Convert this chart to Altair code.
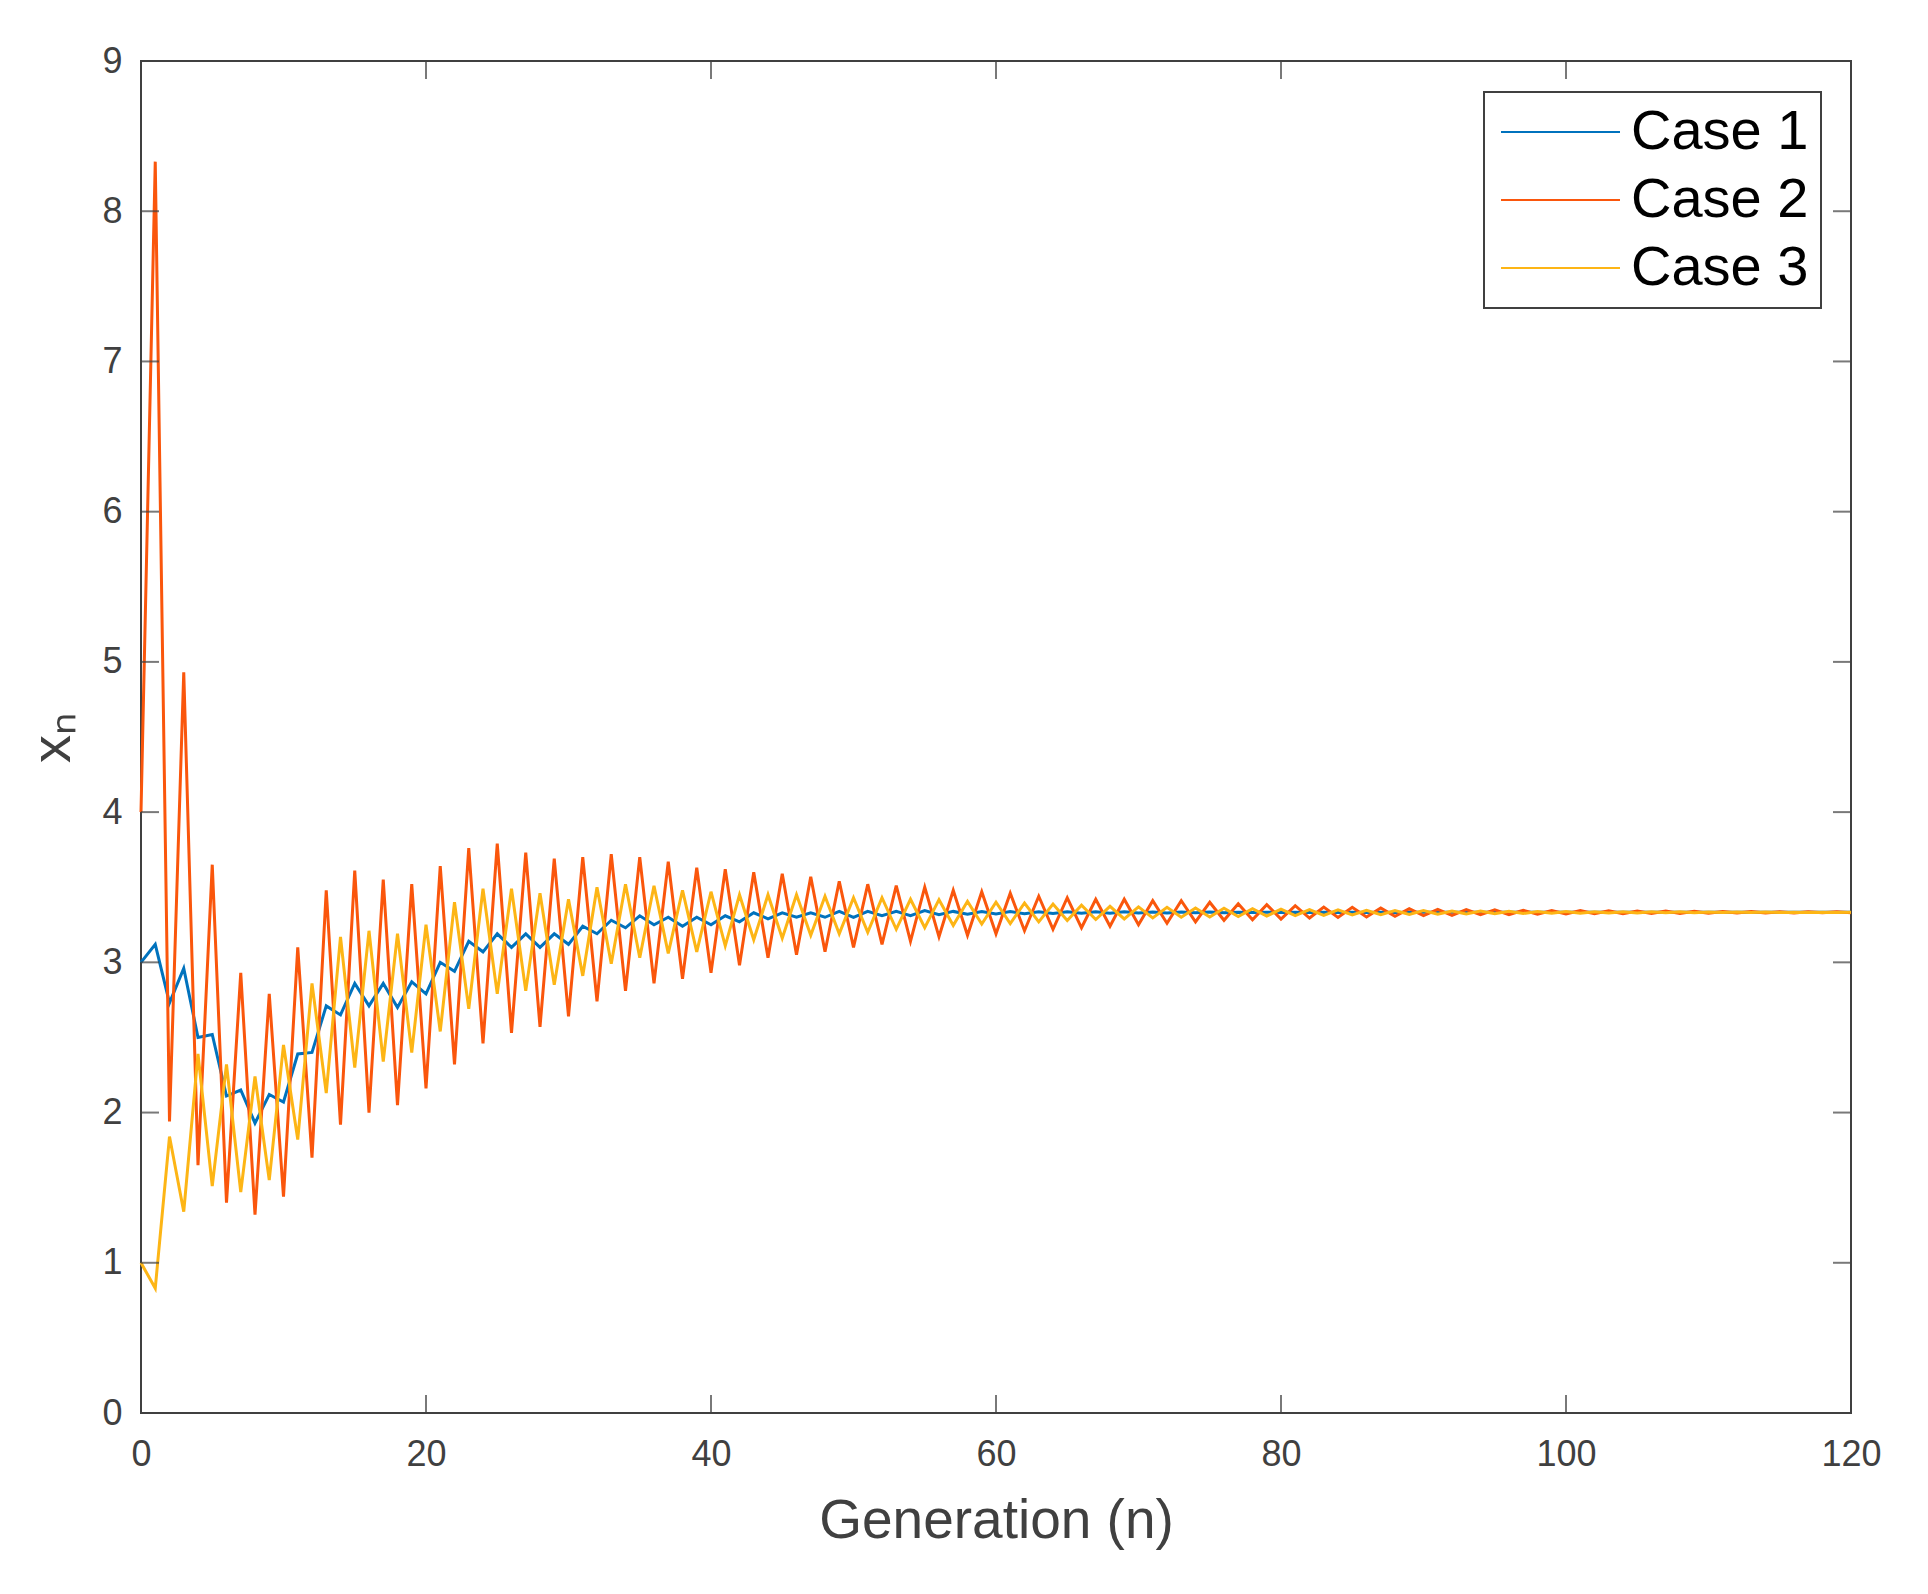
import altair as alt
import pandas as pd

n_values = list(range(121))

case1 = [
    3.00, 3.12, 2.73, 2.96, 2.50, 2.52, 2.11, 2.15, 1.93, 2.12,
    2.07, 2.39, 2.40, 2.71, 2.65, 2.86, 2.71, 2.86, 2.70, 2.87,
    2.79, 3.00, 2.94, 3.14, 3.07, 3.19, 3.10, 3.19, 3.10, 3.19,
    3.12, 3.24, 3.19, 3.28, 3.23, 3.31, 3.25, 3.30, 3.24, 3.30,
    3.25, 3.31, 3.27, 3.33, 3.29, 3.33, 3.30, 3.33, 3.30, 3.34,
    3.30, 3.34, 3.31, 3.34, 3.31, 3.345, 3.317, 3.339, 3.320, 3.338,
    3.322, 3.338, 3.324, 3.337, 3.325, 3.337, 3.326, 3.336, 3.327, 3.336,
    3.328, 3.335, 3.329, 3.335, 3.330, 3.335, 3.330, 3.334, 3.331, 3.334,
    3.331, 3.334, 3.332, 3.334, 3.332, 3.334, 3.332, 3.333, 3.332, 3.333,
    3.333, 3.333, 3.333, 3.333, 3.333, 3.333, 3.333, 3.333, 3.333, 3.333,
    3.333, 3.333, 3.333, 3.333, 3.333, 3.333, 3.333, 3.333, 3.333, 3.333,
    3.333, 3.333, 3.333, 3.333, 3.333, 3.333, 3.333, 3.333, 3.333, 3.333,
    3.333,
]

case2 = [
    4.00, 8.33, 1.94, 4.93, 1.65, 3.65, 1.40, 2.93, 1.32, 2.79,
    1.44, 3.10, 1.70, 3.48, 1.92, 3.61, 2.00, 3.55, 2.05, 3.52,
    2.16, 3.64, 2.32, 3.76, 2.46, 3.79, 2.53, 3.73, 2.57, 3.69,
    2.64, 3.70, 2.74, 3.72, 2.81, 3.70, 2.86, 3.67, 2.89, 3.63,
    2.93, 3.62, 2.98, 3.60, 3.03, 3.59, 3.05, 3.57, 3.07, 3.54,
    3.10, 3.52, 3.12, 3.51, 3.14, 3.50, 3.17, 3.48, 3.18, 3.47,
    3.19, 3.46, 3.21, 3.44, 3.22, 3.43, 3.23, 3.42, 3.24, 3.42,
    3.25, 3.41, 3.26, 3.41, 3.27, 3.40, 3.28, 3.39, 3.284, 3.384,
    3.288, 3.377, 3.295, 3.368, 3.299, 3.366, 3.302, 3.362, 3.306, 3.357,
    3.311, 3.353, 3.313, 3.351, 3.317, 3.349, 3.318, 3.346, 3.321, 3.345,
    3.322, 3.344, 3.323, 3.343, 3.324, 3.342, 3.325, 3.341, 3.326, 3.340,
    3.327, 3.339, 3.328, 3.338, 3.329, 3.337, 3.329, 3.337, 3.330, 3.336,
    3.330,
]

case3 = [
    1.00, 0.83, 1.84, 1.34, 2.39, 1.51, 2.32, 1.47, 2.24, 1.55,
    2.45, 1.82, 2.86, 2.13, 3.17, 2.30, 3.21, 2.34, 3.19, 2.40,
    3.25, 2.54, 3.40, 2.69, 3.49, 2.79, 3.49, 2.81, 3.46, 2.85,
    3.42, 2.91, 3.50, 2.99, 3.52, 3.03, 3.51, 3.06, 3.48, 3.07,
    3.47, 3.11, 3.45, 3.15, 3.45, 3.16, 3.45, 3.18, 3.44, 3.19,
    3.43, 3.20, 3.43, 3.22, 3.42, 3.23, 3.417, 3.246, 3.406, 3.255,
    3.400, 3.258, 3.395, 3.269, 3.388, 3.278, 3.380, 3.285, 3.373, 3.289,
    3.369, 3.296, 3.366, 3.300, 3.362, 3.302, 3.360, 3.305, 3.357, 3.308,
    3.354, 3.311, 3.351, 3.313, 3.349, 3.315, 3.347, 3.317, 3.345, 3.319,
    3.344, 3.321, 3.342, 3.322, 3.341, 3.324, 3.340, 3.325, 3.339, 3.326,
    3.338, 3.327, 3.337, 3.328, 3.337, 3.329, 3.336, 3.330, 3.336, 3.330,
    3.335, 3.331, 3.335, 3.331, 3.335, 3.332, 3.334, 3.332, 3.334, 3.332,
    3.334,
]

series_names = ["Case 1", "Case 2", "Case 3"]
series_colors = ["#0072BD", "#FA560C", "#FDB515"]

x_ticks = [0, 20, 40, 60, 80, 100, 120]
y_ticks = [0, 1, 2, 3, 4, 5, 6, 7, 8, 9]

W, H = 1710, 1352
FONT = "Liberation Sans"
GRAY = "#404040"

rows = []
for name, vals in zip(series_names, [case1, case2, case3]):
    for n, v in zip(n_values, vals):
        rows.append({"n": n, "value": v, "series": name})
df = pd.DataFrame(rows)

xscale = alt.Scale(domain=[0, 120], nice=False, zero=False)
yscale = alt.Scale(domain=[0, 9], nice=False, zero=False)

xaxis = alt.Axis(values=x_ticks, title="Generation (n)", tickSize=0,
                 domain=False, grid=False, labelFontSize=36,
                 labelPadding=24, labelColor=GRAY, labelFont=FONT,
                 titleFont=FONT, titleFontSize=55, titleFontWeight="normal",
                 titleColor=GRAY, titlePadding=22, labelFlush=False)
yaxis = alt.Axis(values=y_ticks, title="xₙ", tickSize=0,
                 domain=False, grid=False, labelFontSize=36,
                 labelPadding=19, labelColor=GRAY, labelFont=FONT,
                 titleFont=FONT, titleFontSize=56, titleFontWeight="normal",
                 titleColor=GRAY, titlePadding=20, labelFlush=False)

lines = alt.Chart(df).mark_line(strokeWidth=3).encode(
    x=alt.X("n:Q", scale=xscale, axis=xaxis, title="Generation (n)"),
    y=alt.Y("value:Q", scale=yscale, axis=yaxis, title="xₙ"),
    color=alt.Color("series:N",
                    scale=alt.Scale(domain=series_names, range=series_colors),
                    legend=alt.Legend(title=None, orient="none", legendX=1343, legendY=31,
                                      symbolType="stroke", symbolSize=14161,
                                      symbolStrokeWidth=2, labelFontSize=56,
                                      labelFont=FONT, labelColor="black",
                                      labelLimit=400, labelOffset=10,
                                      clipHeight=56,
                                      rowPadding=12, padding=12, symbolOffset=4,
                                      strokeColor=GRAY, fillColor="white")),
    order="n:Q",
)

xt = pd.DataFrame({"n": x_ticks})
yt = pd.DataFrame({"value": y_ticks})

tick_bottom = alt.Chart(xt).mark_tick(orient="vertical", size=18, thickness=2, color=GRAY).encode(
    x=alt.X("n:Q", scale=xscale, axis=xaxis, title="Generation (n)"), y=alt.value(H - 9))
tick_top = alt.Chart(xt).mark_tick(orient="vertical", size=18, thickness=2, color=GRAY).encode(
    x=alt.X("n:Q", scale=xscale, axis=xaxis, title="Generation (n)"), y=alt.value(9))
tick_left = alt.Chart(yt).mark_tick(orient="horizontal", size=18, thickness=2, color=GRAY).encode(
    y=alt.Y("value:Q", scale=yscale, axis=yaxis, title="xₙ"), x=alt.value(9))
tick_right = alt.Chart(yt).mark_tick(orient="horizontal", size=18, thickness=2, color=GRAY).encode(
    y=alt.Y("value:Q", scale=yscale, axis=yaxis, title="xₙ"), x=alt.value(W - 9))

chart = alt.layer(lines, tick_bottom, tick_top, tick_left, tick_right).properties(
    width=W, height=H,
    autosize=alt.AutoSizeParams(type="none"),
    padding={"left": 133, "top": 53, "right": 60, "bottom": 170},
).configure_view(stroke=GRAY, strokeWidth=2).configure_legend(strokeWidth=2)

chart.save("out.html", embed_options={"renderer": "svg", "actions": False})
